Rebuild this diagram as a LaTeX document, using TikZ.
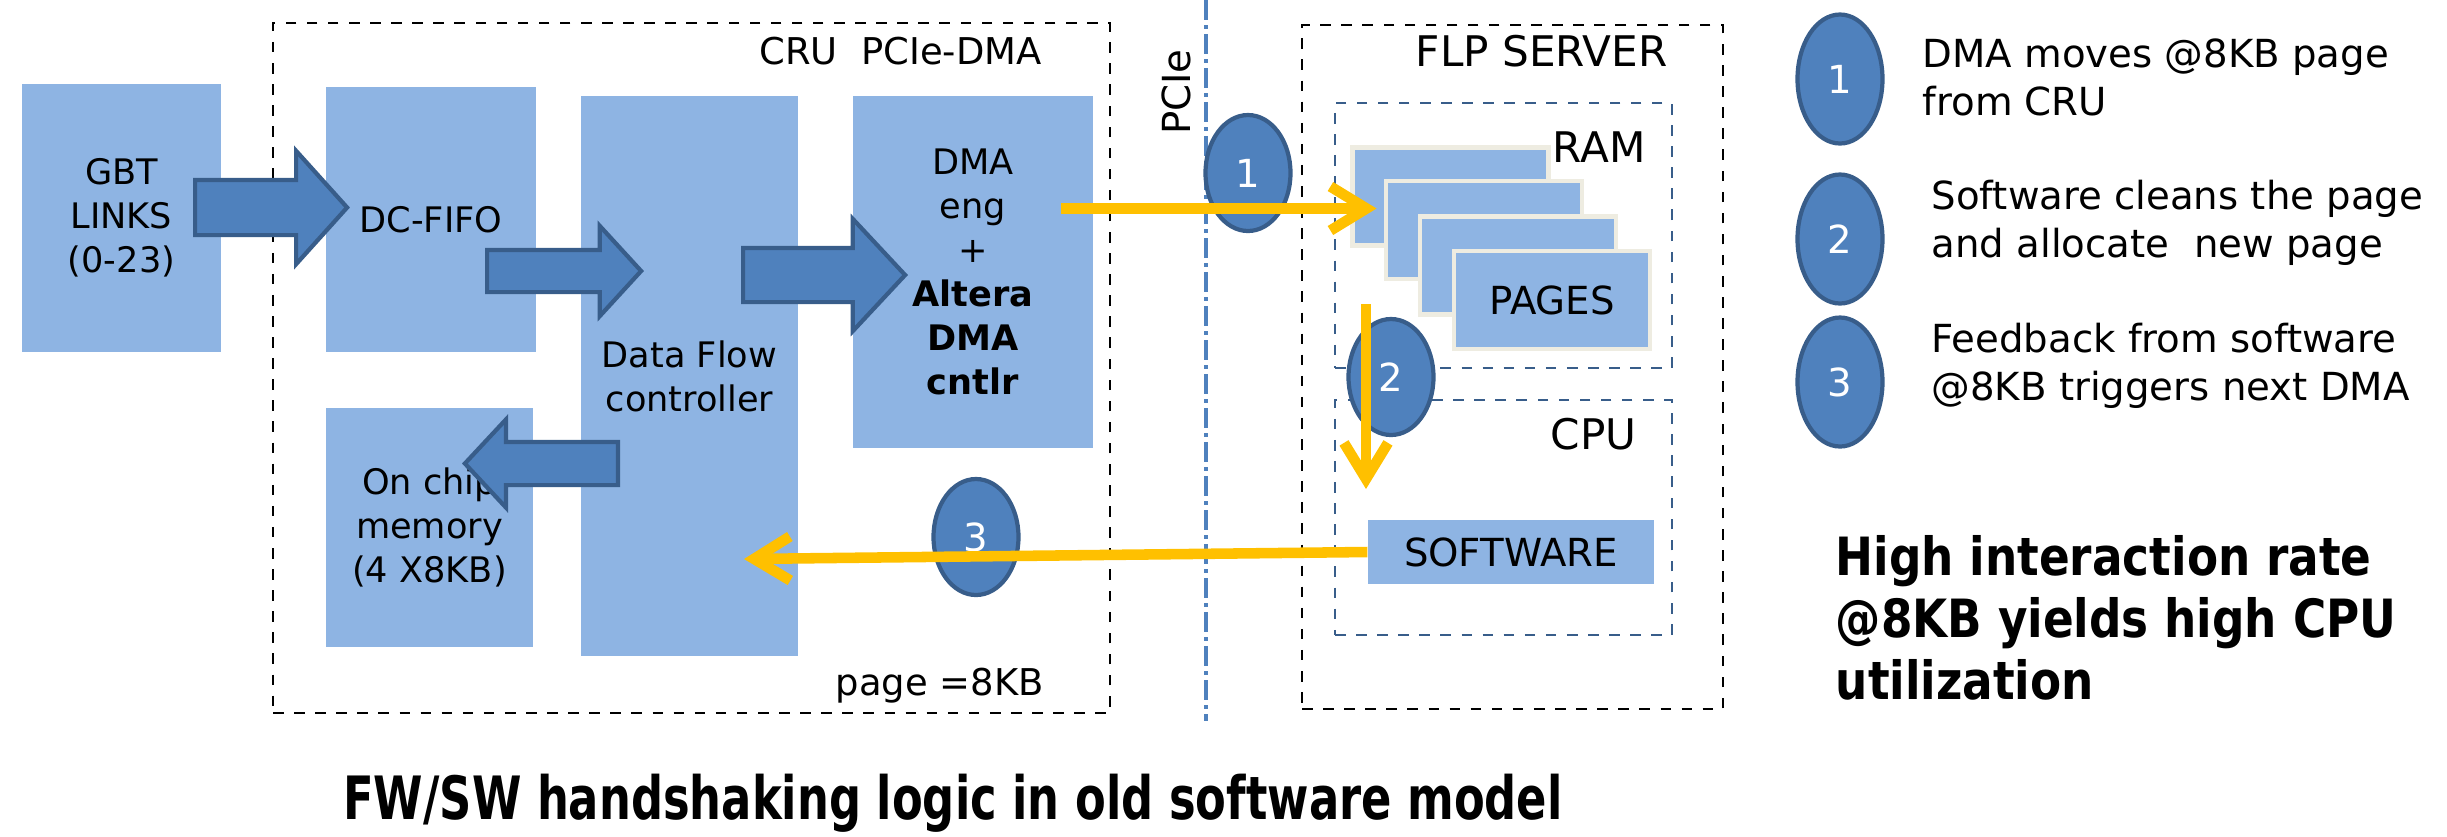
\documentclass[tikz,border=0pt]{standalone}
\usepackage{fontspec}
\setmainfont{DejaVu Sans}
\newfontfamily\summaryfont[FakeStretch=0.86]{DejaVu Sans}
\newfontfamily\captionfont[FakeStretch=0.75]{DejaVu Sans}
\usepackage{xcolor}
\usepackage{tikz}
\usetikzlibrary{shapes.geometric, shapes.arrows, arrows.meta, positioning, calc}

\definecolor{boxblue}{HTML}{8EB4E3}
\definecolor{arrowblue}{HTML}{4F81BD}
\definecolor{edgeblue}{HTML}{385D8A}
\definecolor{flowyellow}{HTML}{FFC000}
\definecolor{pageedge}{HTML}{EEECE1}

\begin{document}
\begin{tikzpicture}[
    block/.style={rectangle, fill=boxblue, inner sep=0pt, align=center,
                  font=\fontsize{10}{12.5}\selectfont},
    pagebox/.style={rectangle, fill=boxblue, draw=pageedge, line width=1.4pt,
                    minimum width=1.96cm, minimum height=0.98cm, inner sep=0pt},
    bigarrow/.style={single arrow, fill=arrowblue, draw=edgeblue, line width=1.2pt,
                     inner xsep=0pt, minimum width=0pt, anchor=tail,
                     single arrow head extend=#1},
    marker/.style={ellipse, fill=arrowblue, draw=edgeblue, line width=1.2pt,
                   minimum width=0.85cm, minimum height=#1, inner sep=0pt,
                   text=white, font=\fontsize{11}{13}\selectfont},
    marker/.default=1.16cm,
    frame/.style={rectangle, draw, dashed, line width=0.6pt, inner sep=0pt},
    subframe/.style={rectangle, draw=edgeblue, dashed, line width=0.7pt, inner sep=0pt},
    flow/.style={draw=flowyellow, line width=3pt,
                 -{Straight Barb[length=3.6mm, width=4.4mm]}},
    note/.style={align=left, inner sep=0pt, font=\fontsize{11}{13.7}\selectfont},
]
\useasboundingbox (0,0) rectangle (24.47,-8.36);

\node[frame, minimum width=8.37cm, minimum height=6.90cm] (cru) at (6.915,-3.68) {};
\node[frame, minimum width=4.21cm, minimum height=6.84cm] (flp) at (15.125,-3.67) {};
\node[subframe, minimum width=3.37cm, minimum height=2.65cm] (ram) at (15.035,-2.355) {};
\node[subframe, minimum width=3.37cm, minimum height=2.35cm] (cpu) at (15.035,-5.175) {};
\draw[arrowblue, line width=1.2pt, dash pattern=on 2mm off 0.5mm on 0.4mm off 0.5mm]
    (12.06,0) -- (12.06,-7.21);

\node[anchor=east, font=\fontsize{10.5}{12}\selectfont] (crutitle) at (10.54,-0.51) {CRU\ \ PCIe-DMA};
\node[anchor=east, font=\fontsize{10.5}{12}\selectfont] (pagesize) at (10.56,-6.86) {page =8KB};
\node[anchor=east, font=\fontsize{12}{14}\selectfont] (flptitle) at (16.80,-0.51) {FLP SERVER};
\node[anchor=east, font=\fontsize{12}{14}\selectfont] (ramtitle) at (16.58,-1.47) {RAM};
\node[anchor=east, font=\fontsize{12}{14}\selectfont] (cputitle) at (16.49,-4.34) {CPU};
\node[rotate=90, font=\fontsize{11}{13}\selectfont] (pcie) at (11.76,-0.92) {PCIe};

\node[block, minimum width=1.99cm, minimum height=2.68cm] (gbt) at (1.215,-2.18) {GBT\\LINKS\\(0-23)};
\node[block, minimum width=2.10cm, minimum height=2.65cm] (fifo) at (4.31,-2.195) {DC-FIFO};
\node[block, minimum width=2.17cm, minimum height=5.60cm] (dfc) at (6.895,-3.76) {Data Flow\\controller};
\node[block, minimum width=2.40cm, minimum height=3.52cm] (dma) at (9.73,-2.72)
    {DMA\\eng\\+\\\textbf{Altera}\\\textbf{DMA}\\\textbf{cntlr}};
\node[block, minimum width=2.07cm, minimum height=2.39cm] (mem) at (4.295,-5.275) {On chip\\memory\\(4 X8KB)};

\node[pagebox] (p1) at (14.505,-1.965) {};
\node[pagebox] (p2) at (14.84,-2.30) {};
\node[pagebox] (p3) at (15.18,-2.655) {};
\node[pagebox, font=\fontsize{11}{13}\selectfont] (p4) at (15.52,-3.00) {PAGES};
\node[block, minimum width=2.86cm, minimum height=0.64cm, font=\fontsize{11}{13}\selectfont] (sw) at (15.11,-5.52) {SOFTWARE};

\node[bigarrow=0.29cm, inner ysep=0.255cm, minimum height=1.52cm, single arrow tip angle=96] (a1) at (1.93,-2.075) {};
\node[bigarrow=0.24cm, inner ysep=0.19cm, minimum height=1.54cm, single arrow tip angle=95] (a2) at (4.85,-2.71) {};
\node[bigarrow=0.29cm, inner ysep=0.25cm, minimum height=1.62cm, single arrow tip angle=94] (a3) at (7.41,-2.75) {};
\node[bigarrow=0.225cm, inner ysep=0.195cm, minimum height=1.53cm, single arrow tip angle=94, shape border rotate=180] (a4) at (6.20,-4.635) {};

\node[marker] (n1) at (12.48,-1.73) {1};
\node[marker] (n2) at (13.91,-3.77) {2};
\node[marker] (n3) at (9.76,-5.37) {3};

\coordinate (y1s) at (10.61,-2.085);
\coordinate (y2s) at (13.66,-3.04);
\coordinate (y2e) at (13.66,-4.89);
\coordinate (y3e) at (7.44,-5.59);
\draw[flow] (y1s) -- ([xshift=-0.07cm]y1s -| p2.west);
\draw[flow] (y2s) -- (y2e);
\draw[flow] (sw.west) -- (y3e);

\node[marker=1.29cm] (k1) at (18.40,-0.79) {1};
\node[marker=1.29cm] (k2) at (18.40,-2.39) {2};
\node[marker=1.29cm] (k3) at (18.40,-3.82) {3};
\node[note, anchor=west] (t1) at (19.22,-0.77) {DMA moves @8KB page\\from CRU};
\node[note, anchor=west] (t2) at (19.31,-2.225) {Software cleans the page\\and allocate\ \ new page};
\node[note, anchor=west] (t3) at (19.31,-3.66) {Feedback from software\\@8KB triggers next DMA};
\node[note, anchor=west, font=\fontsize{15}{17.6}\summaryfont\bfseries] (summary) at (18.35,-6.18)
    {High interaction rate\\@8KB yields high CPU\\utilization};

\node[font=\fontsize{17}{20}\captionfont\bfseries] (caption) at (9.53,-8.03) {FW/SW handshaking logic in old software model};
\end{tikzpicture}
\end{document}
